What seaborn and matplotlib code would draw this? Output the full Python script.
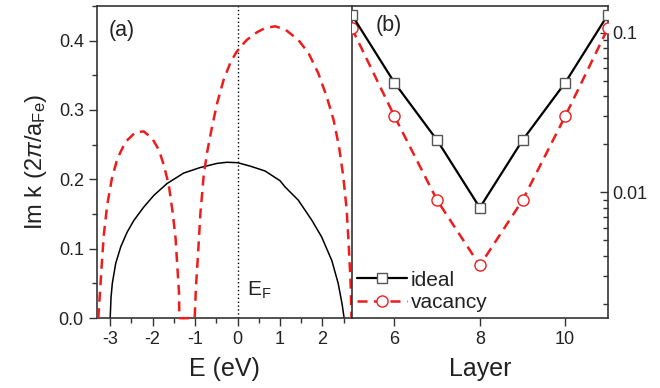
import numpy as np
import pandas as pd
import matplotlib
matplotlib.use("Agg")
import matplotlib.pyplot as plt
import seaborn as sns
from matplotlib.ticker import MultipleLocator, FixedLocator, NullFormatter, LogLocator

# ---- data: panel (a) ----
E_ideal = [-3.00, -2.98, -2.95, -2.87, -2.75, -2.60, -2.44, -2.21, -1.97, -1.66, -1.27,
           -0.88, -0.48, -0.25, 0.0, 0.30, 0.65, 1.0, 1.12, 1.43, 1.75, 1.98, 2.22,
           2.37, 2.46, 2.51]
K_ideal = [0.0, 0.030, 0.050, 0.079, 0.103, 0.124, 0.141, 0.160, 0.177, 0.194, 0.209,
           0.217, 0.223, 0.2246, 0.224, 0.219, 0.212, 0.198, 0.189, 0.170, 0.141, 0.117,
           0.083, 0.050, 0.021, 0.0]

E_vac = [-3.28, -3.25, -3.20, -3.15, -3.07, -2.96, -2.83, -2.64, -2.40, -2.21, -2.01,
         -1.85, -1.74, -1.62, -1.53, -1.46, -1.42, -1.38, -1.37,
         -1.01, -0.98, -0.93, -0.875, -0.80, -0.72, -0.60, -0.48, -0.33, -0.17, -0.04,
         0.04, 0.22, 0.46, 0.65, 0.885, 1.12, 1.43, 1.67, 1.90, 2.10, 2.26, 2.39, 2.49,
         2.57, 2.62, 2.66, 2.685]
K_vac = [0.0, 0.028, 0.076, 0.120, 0.163, 0.201, 0.230, 0.254, 0.268, 0.269, 0.259,
         0.242, 0.221, 0.192, 0.153, 0.115, 0.076, 0.038, 0.0,
         0.0, 0.045, 0.093, 0.151, 0.204, 0.238, 0.276, 0.310, 0.343, 0.368, 0.382,
         0.389, 0.401, 0.412, 0.418, 0.4205, 0.416, 0.401, 0.382, 0.353, 0.319, 0.286,
         0.247, 0.204, 0.156, 0.103, 0.054, 0.0]

# ---- data: panel (b) ----
layers = [5, 6, 7, 8, 9, 10, 11]
ideal = [0.13, 0.0487, 0.0212, 0.0080, 0.0212, 0.0487, 0.13]
vacancy = [0.107, 0.030, 0.0089, 0.00347, 0.0089, 0.030, 0.107]

sns.set_style("ticks")
plt.rcParams['font.family'] = ['Liberation Sans', 'DejaVu Sans']
plt.rcParams['mathtext.fontset'] = 'custom'
plt.rcParams['mathtext.rm'] = 'Liberation Sans'
plt.rcParams['mathtext.it'] = 'Liberation Sans:italic'
plt.rcParams['axes.unicode_minus'] = False

fig = plt.figure(figsize=(6.6, 3.88), dpi=100)
ax1 = fig.add_axes([0.147, 0.180, 0.386, 0.805])
ax2 = fig.add_axes([0.533, 0.180, 0.388, 0.805])

red = '#ee1c1c'
tc = '#222222'

# panel (a)
sns.lineplot(x=E_ideal, y=K_ideal, ax=ax1, color='black', lw=1.1, sort=False)
sns.lineplot(x=E_vac, y=K_vac, ax=ax1, color=red, lw=1.8, sort=False,
             linestyle=(0, (4, 2.6)), zorder=5, clip_on=False)
ax1.axvline(0, color='black', lw=1.0, linestyle=(0, (1, 1.8)))
ax1.set_xlim(-3.31, 2.69)
ax1.set_ylim(0, 0.45)
ax1.xaxis.set_major_locator(FixedLocator([-3, -2, -1, 0, 1, 2]))
ax1.xaxis.set_minor_locator(MultipleLocator(0.5))
ax1.yaxis.set_major_locator(FixedLocator([0.0, 0.1, 0.2, 0.3, 0.4]))
ax1.yaxis.set_minor_locator(MultipleLocator(0.05))
ax1.set_yticklabels(['0.0', '0.1', '0.2', '0.3', '0.4'])
ax1.tick_params(which='major', direction='out', length=6, width=1, labelsize=13,
                colors='#333', labelcolor=tc)
ax1.tick_params(which='minor', direction='out', length=3.5, width=1, colors='#333')
ax1.set_xlabel('E (eV)', fontsize=18, color=tc, labelpad=6)
ax1.set_ylabel(r'Im k (2$\pi$/a$_{\mathrm{Fe}}$)', fontsize=17, color=tc, labelpad=7)
ax1.text(-3.03, 0.415, '(a)', fontsize=15.5, color=tc, va='center')
ax1.text(0.23, 0.04, r'E$_{\mathrm{F}}$', fontsize=15, color=tc, va='center')
for s in ax1.spines.values():
    s.set_color('#333')
    s.set_linewidth(1.2)
ax1.spines['right'].set_visible(False)

# panel (b)
sns.lineplot(x=layers, y=ideal, ax=ax2, color='black', lw=1.6, marker='s',
             markersize=7.5, markerfacecolor='white', markeredgecolor='#555555',
             markeredgewidth=1.0, label='ideal', zorder=4)
sns.lineplot(x=layers, y=vacancy, ax=ax2, color=red, lw=1.8, linestyle=(0, (4, 2.6)),
             marker='o', markersize=8, markerfacecolor='white', markeredgecolor=red,
             markeredgewidth=1.0, label='vacancy', zorder=3)
ax2.set_yscale('log')
ax2.set_xlim(5, 11)
ax2.set_ylim(0.00162, 0.148)
ax2.xaxis.set_major_locator(FixedLocator([6, 8, 10]))
ax2.yaxis.tick_right()
ax2.yaxis.set_major_locator(FixedLocator([0.01, 0.1]))
ax2.set_yticklabels(['0.01', '0.1'])
ax2.yaxis.set_minor_locator(LogLocator(base=10, subs=np.arange(2, 10)))
ax2.yaxis.set_minor_formatter(NullFormatter())
ax2.tick_params(axis='x', which='major', direction='out', length=6, width=1,
                labelsize=13, colors='#333', labelcolor=tc)
ax2.tick_params(axis='y', which='major', direction='in', length=6, width=1,
                labelsize=13, colors='#333', labelcolor=tc, right=True, left=False)
ax2.tick_params(axis='y', which='minor', direction='in', length=3.5, width=1,
                colors='#333', right=True, left=False)
ax2.set_xlabel('Layer', fontsize=18, color=tc, labelpad=6)
ax2.set_ylabel('')
ax2.text(5.55, 0.112, '(b)', fontsize=15.5, color=tc, va='center')
for s in ax2.spines.values():
    s.set_color('#333')
    s.set_linewidth(1.2)
leg = ax2.legend(loc='lower left', frameon=False, fontsize=15, handlelength=2.4,
                 handletextpad=0.2, borderaxespad=0.0, labelspacing=0.15,
                 borderpad=0.0, bbox_to_anchor=(0.02, 0.02))
for t in leg.get_texts():
    t.set_color(tc)

fig.savefig('out.png', dpi=100)
